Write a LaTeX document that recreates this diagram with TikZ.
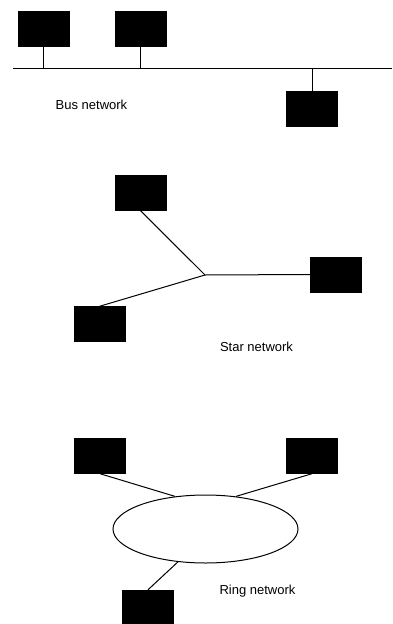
\documentclass[tikz,border=0pt]{standalone}
\usepackage{fontspec}
\setmainfont{Liberation Sans}
\usetikzlibrary{shapes.geometric}

\begin{document}
\begin{tikzpicture}[x=1pt,y=-1pt]

        \useasboundingbox (0,0) rectangle (392,624);

        \begin{scope}[every node/.style={rectangle,draw,fill=black,minimum width=51pt,minimum height=35pt,inner sep=0pt}]
          \node (1) at (43.5,28.5)  {};
          \node (2) at (140.5,28.5) {};
          \node (3) at (312,108.5)  {};
          \node (4) at (140.5,193)  {};
          \node (5) at (335.5,274.5){};
          \node (6) at (99.5,324)   {};
          \node (7) at (100,456)    {};
          \node (8) at (312,456)    {};
          \node (9) at (148,607.5)  {};
        \end{scope}

        \coordinate (busL) at (13,68);
        \coordinate (busR) at (392,68);
        \coordinate (hub)  at (205,275);
        \node[ellipse,draw,line width=1pt,minimum width=185pt,minimum height=68pt,inner sep=0pt] (ring) at (205.5,529) {};

        \begin{scope}[every node/.style={font=\fontsize{13}{15}\selectfont}]
          \node (busText)  at (91.5,105)  {Bus network};
          \node (starText) at (256.5,347) {Star network};
          \node (ringText) at (257.5,591) {Ring network};
        \end{scope}

        \begin{scope}[every edge/.style={draw,line width=1pt}]
          \path (busL)    edge (busR);
          \path (1.south) edge (1.south |- busL);
          \path (2.south) edge (2.south |- busL);
          \path (3.north) edge (3.north |- busL);
          \path (hub)     edge (4.south);
          \path (hub)     edge (5.west);
          \path (hub)     edge (6.north);
          \path (7.south) edge (ring.133);
          \path (8.south) edge (ring.47);
          \path (9.north) edge (ring.230);
        \end{scope}

      \end{tikzpicture}
\end{document}
